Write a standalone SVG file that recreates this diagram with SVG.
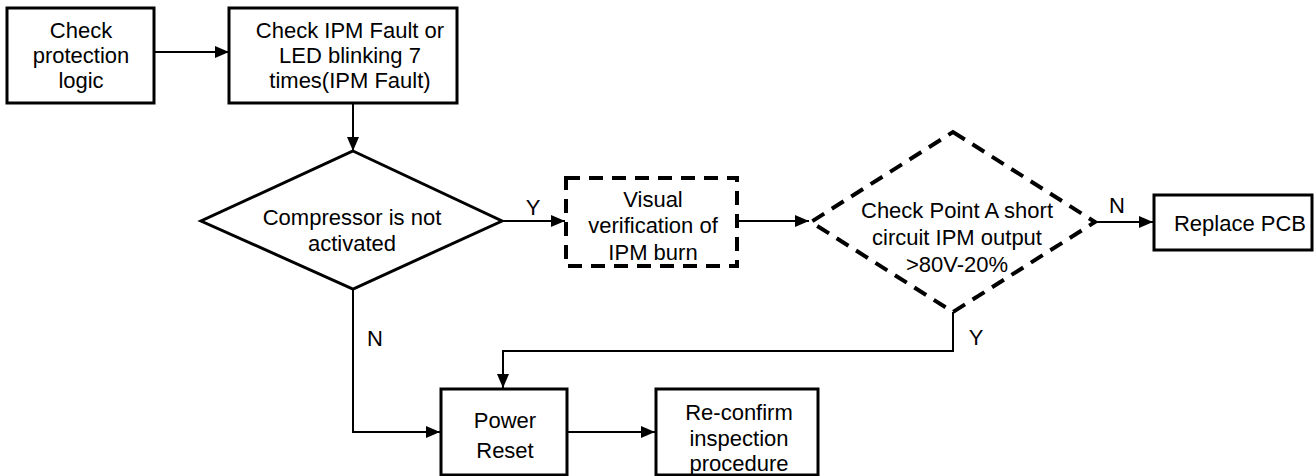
<svg xmlns="http://www.w3.org/2000/svg" width="1314" height="476" viewBox="0 0 1314 476">
<defs>
<marker id="arr" viewBox="0 0 14 12" refX="14" refY="6" markerWidth="14" markerHeight="12" markerUnits="userSpaceOnUse" orient="auto">
<path d="M0,0 L14,6 L0,12 Z" fill="#000"/>
</marker>
<style>
.box{fill:#fff;stroke:#000;stroke-width:3}
.dash{fill:#fff;stroke:#000;stroke-width:4;stroke-dasharray:14 9}
.t{font-family:"Liberation Sans",Arial,sans-serif;font-size:22px;fill:#000;text-anchor:middle}
.c{fill:none;stroke:#000;stroke-width:2;marker-end:url(#arr)}
</style>
</defs>
<rect width="1314" height="476" fill="#fff"/>
<g id="connectors">
<line class="c" x1="154" y1="52" x2="229" y2="52"/>
<line class="c" x1="353" y1="103" x2="353" y2="151"/>
<line class="c" x1="502" y1="221" x2="565" y2="221"/>
<line class="c" x1="737" y1="221" x2="809" y2="221"/>
<line class="c" x1="1095" y1="222" x2="1153" y2="222"/>
<polyline class="c" points="953,312 953,351 503,351 503,388"/>
<polyline class="c" points="353,289 353,432 440,432"/>
<line class="c" x1="567" y1="432" x2="655" y2="432"/>
<text class="t" x="533" y="215">Y</text>
<text class="t" x="1117" y="213">N</text>
<text class="t" x="976" y="345">Y</text>
<text class="t" x="375" y="346">N</text>
</g>
<g id="n1">
<rect class="box" x="7" y="8" width="147" height="95"/>
<text class="t" x="81" y="38">Check</text>
<text class="t" x="81" y="63">protection</text>
<text class="t" x="81" y="88">logic</text>
</g>
<g id="n2">
<rect class="box" x="229" y="8" width="228" height="95"/>
<text class="t" x="350" y="38">Check IPM Fault or</text>
<text class="t" x="350" y="63">LED blinking 7</text>
<text class="t" x="350" y="88">times(IPM Fault)</text>
</g>
<g id="n3">
<polygon points="353,151 502,221 353,289 201,221" fill="#fff" stroke="#000" stroke-width="3"/>
<text class="t" x="352" y="225">Compressor is not</text>
<text class="t" x="352" y="251">activated</text>
</g>
<g id="n4">
<rect class="dash" x="566" y="178" width="171" height="88"/>
<text class="t" x="653" y="207">Visual</text>
<text class="t" x="653" y="233">verification of</text>
<text class="t" x="653" y="260">IPM burn</text>
</g>
<g id="n5">
<polygon class="dash" points="953,132 1095,222 953,312 811,222"/>
<text class="t" x="957" y="218">Check Point A short</text>
<text class="t" x="957" y="245">circuit IPM output</text>
<text class="t" x="957" y="272">&gt;80V-20%</text>
</g>
<g id="n6">
<rect class="box" x="1154" y="195" width="158" height="55"/>
<text class="t" x="1240" y="231">Replace PCB</text>
</g>
<g id="n7">
<rect class="box" x="441" y="389" width="126" height="86"/>
<text class="t" x="505" y="428">Power</text>
<text class="t" x="505" y="458">Reset</text>
</g>
<g id="n8">
<rect class="box" x="656" y="389" width="162" height="86"/>
<text class="t" x="739" y="420">Re-confirm</text>
<text class="t" x="739" y="446">inspection</text>
<text class="t" x="739" y="471">procedure</text>
</g>
</svg>
